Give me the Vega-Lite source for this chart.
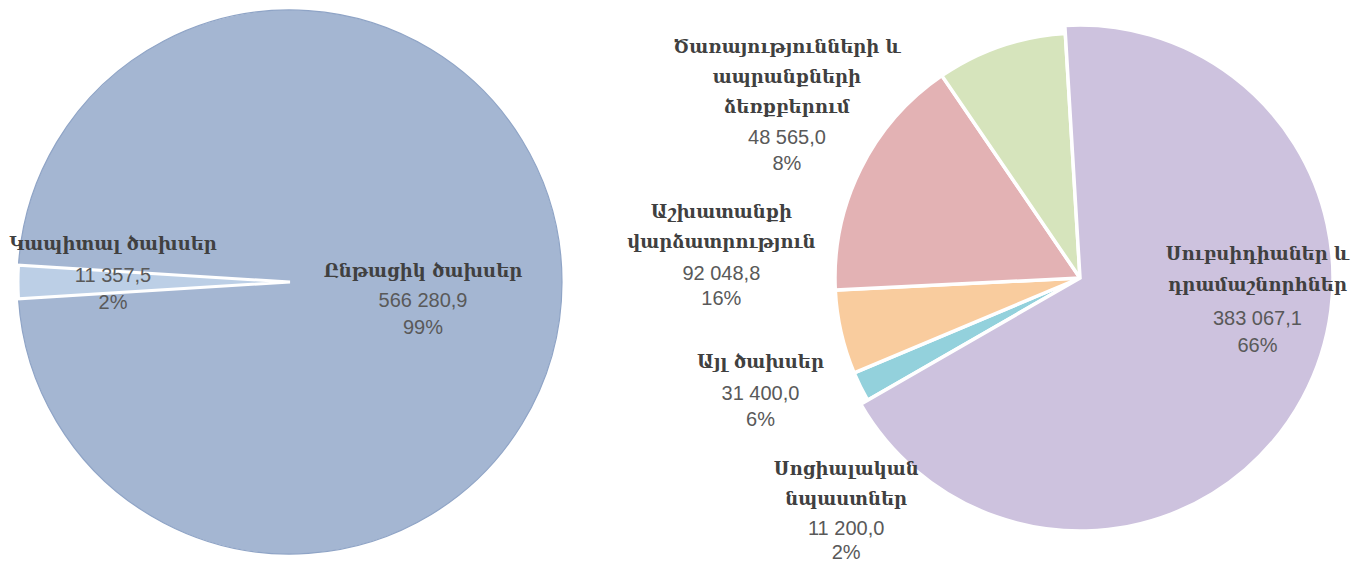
{
  "$schema": "https://vega.github.io/schema/vega-lite/v6.json",
  "padding": 0,
  "background": "white",
  "spacing": 255,
  "bounds": "flush",
  "resolve": {"scale": {"color": "independent", "theta": "independent"}},
  "config": {"view": {"stroke": null}},
  "datasets": {
    "total": [
      {"idx": 1, "name": "Կապիտալ ծախսեր", "value": 11357.5, "valueText": "11 357,5", "pct": "2%"},
      {"idx": 2, "name": "Ընթացիկ ծախսեր", "value": 566280.9, "valueText": "566 280,9", "pct": "99%"}
    ],
    "current": [
      {"idx": 1, "name": "Սուբսիդիաներ և\nդրամաշնորհներ", "value": 383067.1, "valueText": "383 067,1", "pct": "66%"},
      {"idx": 2, "name": "Սոցիալական\nնպաստներ", "value": 11200.0, "valueText": "11 200,0", "pct": "2%"},
      {"idx": 3, "name": "Այլ ծախսեր", "value": 31400.0, "valueText": "31 400,0", "pct": "6%"},
      {"idx": 4, "name": "Աշխատանքի\nվարձատրություն", "value": 92048.8, "valueText": "92 048,8", "pct": "16%"},
      {"idx": 5, "name": "Ծառայությունների և\nապրանքների\nձեռքբերում", "value": 48565.0, "valueText": "48 565,0", "pct": "8%"}
    ]
  },
  "hconcat": [
    {
      "width": 580,
      "height": 564,
      "data": {"name": "total"},
      "encoding": {
        "theta": {"field": "value", "type": "quantitative", "stack": true, "scale": {"range": [4.65062, 10.93381]}},
        "order": {"field": "idx", "type": "quantitative"}
      },
      "layer": [
        {
          "mark": {"type": "arc", "outerRadius": 272, "stroke": "#8fa4c6", "strokeWidth": 1.2},
          "encoding": {"color": {"field": "idx", "type": "nominal", "scale": {"domain": [1, 2], "range": ["#bccfe6", "#a4b6d2"]}, "legend": null}}
        },
        {
          "mark": {"type": "arc", "outerRadius": 272, "stroke": "white", "strokeWidth": 3},
          "encoding": {
            "color": {"field": "idx", "type": "nominal", "scale": {"domain": [1, 2], "range": ["#bccfe6", "#a4b6d2"]}, "legend": null},
            "opacity": {"condition": {"test": "datum.idx === 1", "value": 1}, "value": 0}
          }
        },
        {
          "mark": {"type": "text", "radius": 180, "dx": 3, "dy": -46, "baseline": "top", "font": "DejaVu Serif", "fontWeight": "bold", "fontSize": 18, "lineHeight": 30, "lineBreak": "\n", "fill": "#404040"},
          "encoding": {"text": {"field": "name"}, "opacity": {"condition": {"test": "datum.idx === 1", "value": 1}, "value": 0}}
        },
        {
          "mark": {"type": "text", "radius": 180, "dx": 3, "dy": -6, "baseline": "middle", "font": "Liberation Sans", "fontSize": 20, "fill": "#595959"},
          "encoding": {"text": {"field": "valueText"}, "opacity": {"condition": {"test": "datum.idx === 1", "value": 1}, "value": 0}}
        },
        {
          "mark": {"type": "text", "radius": 180, "dx": 3, "dy": 21, "baseline": "middle", "font": "Liberation Sans", "fontSize": 20, "fill": "#595959"},
          "encoding": {"text": {"field": "pct"}, "opacity": {"condition": {"test": "datum.idx === 1", "value": 1}, "value": 0}}
        },
        {
          "mark": {"type": "text", "radius": 135, "dx": -2, "dy": -19, "baseline": "top", "font": "DejaVu Serif", "fontWeight": "bold", "fontSize": 18, "lineHeight": 30, "lineBreak": "\n", "fill": "#404040"},
          "encoding": {"text": {"field": "name"}, "opacity": {"condition": {"test": "datum.idx === 2", "value": 1}, "value": 0}}
        },
        {
          "mark": {"type": "text", "radius": 135, "dx": -2, "dy": 19, "baseline": "middle", "font": "Liberation Sans", "fontSize": 20, "fill": "#595959"},
          "encoding": {"text": {"field": "valueText"}, "opacity": {"condition": {"test": "datum.idx === 2", "value": 1}, "value": 0}}
        },
        {
          "mark": {"type": "text", "radius": 135, "dx": -2, "dy": 46, "baseline": "middle", "font": "Liberation Sans", "fontSize": 20, "fill": "#595959"},
          "encoding": {"text": {"field": "pct"}, "opacity": {"condition": {"test": "datum.idx === 2", "value": 1}, "value": 0}}
        }
      ]
    },
    {
      "width": 490,
      "height": 556,
      "data": {"name": "current"},
      "encoding": {
        "theta": {"field": "value", "type": "quantitative", "stack": true, "scale": {"range": [-0.06, 6.22319]}},
        "order": {"field": "idx", "type": "quantitative"}
      },
      "layer": [
        {
          "mark": {"type": "arc", "outerRadius": 245, "stroke": "white", "strokeWidth": 3.5},
          "encoding": {"color": {"field": "idx", "type": "nominal", "scale": {"domain": [1, 2, 3, 4, 5], "range": ["#cdc2de", "#93d1dc", "#f9cc9e", "#e3b2b4", "#d6e4bc"]}, "legend": null}}
        },
        {
          "mark": {"type": "arc", "outerRadius": 253, "stroke": "white", "strokeWidth": 3.5},
          "encoding": {
            "color": {"field": "idx", "type": "nominal", "scale": {"domain": [1, 2, 3, 4, 5], "range": ["#cdc2de", "#93d1dc", "#f9cc9e", "#e3b2b4", "#d6e4bc"]}, "legend": null},
            "opacity": {"condition": {"test": "datum.idx === 1", "value": 1}, "value": 0}
          }
        },
        {
          "mark": {"type": "text", "radius": 80, "dx": 107, "dy": -70, "baseline": "top", "font": "DejaVu Serif", "fontWeight": "bold", "fontSize": 18, "lineHeight": 31, "lineBreak": "\n", "fill": "#404040"},
          "encoding": {"text": {"field": "name"}, "opacity": {"condition": {"test": "datum.idx === 1", "value": 1}, "value": 0}}
        },
        {
          "mark": {"type": "text", "radius": 80, "dx": 107, "dy": 3, "baseline": "middle", "font": "Liberation Sans", "fontSize": 20, "fill": "#595959"},
          "encoding": {"text": {"field": "valueText"}, "opacity": {"condition": {"test": "datum.idx === 1", "value": 1}, "value": 0}}
        },
        {
          "mark": {"type": "text", "radius": 80, "dx": 107, "dy": 30, "baseline": "middle", "font": "Liberation Sans", "fontSize": 20, "fill": "#595959"},
          "encoding": {"text": {"field": "pct"}, "opacity": {"condition": {"test": "datum.idx === 1", "value": 1}, "value": 0}}
        },
        {
          "mark": {"type": "text", "radius": 300, "dx": 35, "dy": 50, "baseline": "top", "font": "DejaVu Serif", "fontWeight": "bold", "fontSize": 18, "lineHeight": 30, "lineBreak": "\n", "fill": "#404040"},
          "encoding": {"text": {"field": "name"}, "opacity": {"condition": {"test": "datum.idx === 2", "value": 1}, "value": 0}}
        },
        {
          "mark": {"type": "text", "radius": 300, "dx": 35, "dy": 118, "baseline": "middle", "font": "Liberation Sans", "fontSize": 20, "fill": "#595959"},
          "encoding": {"text": {"field": "valueText"}, "opacity": {"condition": {"test": "datum.idx === 2", "value": 1}, "value": 0}}
        },
        {
          "mark": {"type": "text", "radius": 300, "dx": 35, "dy": 142, "baseline": "middle", "font": "Liberation Sans", "fontSize": 20, "fill": "#595959"},
          "encoding": {"text": {"field": "pct"}, "opacity": {"condition": {"test": "datum.idx === 2", "value": 1}, "value": 0}}
        },
        {
          "mark": {"type": "text", "radius": 300, "dx": -27, "dy": 9, "baseline": "top", "font": "DejaVu Serif", "fontWeight": "bold", "fontSize": 18, "lineHeight": 30, "lineBreak": "\n", "fill": "#404040"},
          "encoding": {"text": {"field": "name"}, "opacity": {"condition": {"test": "datum.idx === 3", "value": 1}, "value": 0}}
        },
        {
          "mark": {"type": "text", "radius": 300, "dx": -27, "dy": 49, "baseline": "middle", "font": "Liberation Sans", "fontSize": 20, "fill": "#595959"},
          "encoding": {"text": {"field": "valueText"}, "opacity": {"condition": {"test": "datum.idx === 3", "value": 1}, "value": 0}}
        },
        {
          "mark": {"type": "text", "radius": 300, "dx": -27, "dy": 75, "baseline": "middle", "font": "Liberation Sans", "fontSize": 20, "fill": "#595959"},
          "encoding": {"text": {"field": "pct"}, "opacity": {"condition": {"test": "datum.idx === 3", "value": 1}, "value": 0}}
        },
        {
          "mark": {"type": "text", "radius": 300, "dx": -90, "dy": 60, "baseline": "top", "font": "DejaVu Serif", "fontWeight": "bold", "fontSize": 18, "lineHeight": 30, "lineBreak": "\n", "fill": "#404040"},
          "encoding": {"text": {"field": "name"}, "opacity": {"condition": {"test": "datum.idx === 4", "value": 1}, "value": 0}}
        },
        {
          "mark": {"type": "text", "radius": 300, "dx": -90, "dy": 130, "baseline": "middle", "font": "Liberation Sans", "fontSize": 20, "fill": "#595959"},
          "encoding": {"text": {"field": "valueText"}, "opacity": {"condition": {"test": "datum.idx === 4", "value": 1}, "value": 0}}
        },
        {
          "mark": {"type": "text", "radius": 300, "dx": -90, "dy": 155, "baseline": "middle", "font": "Liberation Sans", "fontSize": 20, "fill": "#595959"},
          "encoding": {"text": {"field": "pct"}, "opacity": {"condition": {"test": "datum.idx === 4", "value": 1}, "value": 0}}
        },
        {
          "mark": {"type": "text", "radius": 300, "dx": -196, "dy": 45, "baseline": "top", "font": "DejaVu Serif", "fontWeight": "bold", "fontSize": 18, "lineHeight": 30, "lineBreak": "\n", "fill": "#404040"},
          "encoding": {"text": {"field": "name"}, "opacity": {"condition": {"test": "datum.idx === 5", "value": 1}, "value": 0}}
        },
        {
          "mark": {"type": "text", "radius": 300, "dx": -196, "dy": 144, "baseline": "middle", "font": "Liberation Sans", "fontSize": 20, "fill": "#595959"},
          "encoding": {"text": {"field": "valueText"}, "opacity": {"condition": {"test": "datum.idx === 5", "value": 1}, "value": 0}}
        },
        {
          "mark": {"type": "text", "radius": 300, "dx": -196, "dy": 170, "baseline": "middle", "font": "Liberation Sans", "fontSize": 20, "fill": "#595959"},
          "encoding": {"text": {"field": "pct"}, "opacity": {"condition": {"test": "datum.idx === 5", "value": 1}, "value": 0}}
        }
      ]
    }
  ]
}
